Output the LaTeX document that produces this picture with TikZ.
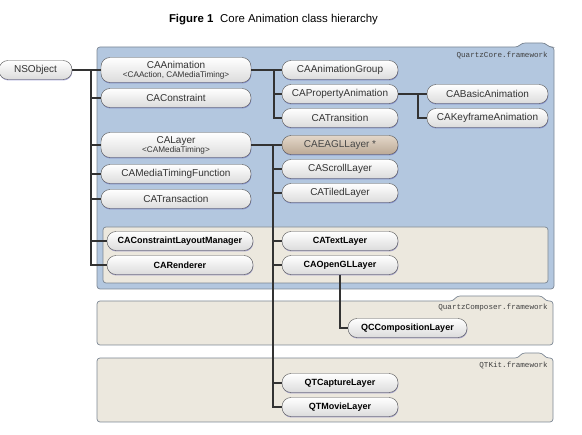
\documentclass[tikz,border=0pt]{standalone}
\usepackage{fontspec}
\setmainfont{Liberation Sans}
\setmonofont{Liberation Mono}
\usetikzlibrary{positioning}
\usetikzlibrary{shadows}

\definecolor{qcblue}{HTML}{B3C7DF}
\definecolor{fwbeige}{HTML}{ECE8DE}
\definecolor{fwedge}{HTML}{7C8794}
\definecolor{linegray}{HTML}{333333}
\definecolor{eaglTop}{HTML}{E3D7C9}
\definecolor{eaglBot}{HTML}{BCA995}

\tikzset{
  cls/.style={draw=gray!65!black, rounded corners=9pt, top color=white, bottom color=gray!28,
    minimum height=19pt, inner sep=1pt, font=\fontsize{10}{11}\selectfont, text=black!80,
    drop shadow={shadow xshift=0.4pt, shadow yshift=-1pt, fill=blue!40!gray, opacity=0.45}},
  boldcls/.style={cls, font=\fontsize{9}{11}\selectfont\bfseries, text=black},
  colA/.style={minimum width=150pt},
  colB/.style={minimum width=116pt},
  colC/.style={minimum width=121pt},
  link/.style={draw=linegray, line width=1.1pt},
  fwbox/.style={draw=fwedge, line width=0.7pt, rounded corners=3pt},
  fwlabel/.style={anchor=east, inner sep=0pt, text=black!75, font=\ttfamily\fontsize{7.6}{8}\selectfont},
}

\begin{document}
\begin{tikzpicture}[x=1pt,y=-1pt]
\useasboundingbox (0,0) rectangle (582,435);

% framework boxes
\filldraw[fwbox, fill=qcblue] (97,47) -- (518,47) -- (522,43) -- (545,43) -- (549,47)
  -- (554,47) -- (554,289) -- (97,289) -- cycle;
\filldraw[fwbox, fill=fwbeige] (103,227) rectangle (548,283);
\filldraw[fwbox, fill=fwbeige] (97,301) -- (453,301) -- (457,296) -- (542,296) -- (546,301)
  -- (553,301) -- (553,345) -- (97,345) -- cycle;
\filldraw[fwbox, fill=fwbeige] (97,358) -- (518,358) -- (522,353) -- (542,353) -- (546,358)
  -- (553,358) -- (553,422) -- (97,422) -- cycle;
\node[fwlabel] (qcLabel) at (548,55) {QuartzCore.framework};
\node[fwlabel] (qzLabel) at (548,308) {QuartzComposer.framework};
\node[fwlabel] (qtLabel) at (548,365) {QTKit.framework};

\node (title) at (273.5,20) {\fontsize{11.4}{13}\selectfont\textbf{Figure 1}\hspace{0.6em}Core Animation class hierarchy};

% classes
\node[cls, minimum width=73pt] (nsObject) at (35.5,70) {NSObject};
\node[cls, colA, minimum height=25pt, align=center] (caAnimation) at (176,70)
  {CAAnimation\\[-2pt]{\fontsize{8.2}{8}\selectfont <CAAction, CAMediaTiming>}};
\node[cls, colA] (caConstraint) at (176,98) {CAConstraint};
\node[cls, colA, minimum height=25pt, align=center] (caLayer) at (176,145)
  {CALayer\\[-2pt]{\fontsize{8.2}{8}\selectfont <CAMediaTiming>}};
\node[cls, colA] (caMediaTimingFunction) at (176,174) {CAMediaTimingFunction};
\node[cls, colA] (caTransaction) at (176,199) {CATransaction};
\node[boldcls, minimum width=146pt] (caConstraintLayoutManager) at (180,241) {CAConstraintLayoutManager};
\node[boldcls, minimum width=146pt] (caRenderer) at (180,265) {CARenderer};

\node[cls, colB] (caAnimationGroup) at (340,70) {CAAnimationGroup};
\node[cls, colB] (caPropertyAnimation) at (340,94) {CAPropertyAnimation};
\node[cls, colB] (caTransition) at (340,118) {CATransition};
\node[cls, colC] (caBasicAnimation) at (487.5,94) {CABasicAnimation};
\node[cls, colC] (caKeyframeAnimation) at (487.5,118) {CAKeyframeAnimation};

\node[cls, colB, top color=eaglTop, bottom color=eaglBot, text=black!72] (caEAGLLayer) at (340,145) {CAEAGLLayer *};
\node[cls, colB] (caScrollLayer) at (340,169) {CAScrollLayer};
\node[cls, colB] (caTiledLayer) at (340,193) {CATiledLayer};
\node[boldcls, colB] (caTextLayer) at (340,241) {CATextLayer};
\node[boldcls, colB] (caOpenGLLayer) at (340,265) {CAOpenGLLayer};
\node[boldcls, minimum width=119pt] (qcCompositionLayer) at (407.5,328) {QCCompositionLayer};
\node[boldcls, colB] (qtCaptureLayer) at (340,383) {QTCaptureLayer};
\node[boldcls, colB] (qtMovieLayer) at (340,407) {QTMovieLayer};

% subclass lines
\coordinate (nsTrunk) at (91,70);
\coordinate (animTrunk) at (274,70);
\coordinate (propTrunk) at (418,94);
\coordinate (layerTrunk) at (273,145);

\draw[link] (nsObject.east) -- (caAnimation.west);
\foreach \child in {caConstraint, caLayer, caMediaTimingFunction, caTransaction,
  caConstraintLayoutManager, caRenderer}
  \draw[link] (nsTrunk) |- (\child.west);

\draw[link] (caAnimation.east) -- (caAnimationGroup.west);
\foreach \child in {caPropertyAnimation, caTransition}
  \draw[link] (animTrunk) |- (\child.west);

\draw[link] (caPropertyAnimation.east) -- (caBasicAnimation.west);
\draw[link] (propTrunk) |- (caKeyframeAnimation.west);

\draw[link] (caLayer.east) -- (caEAGLLayer.west);
\foreach \child in {caScrollLayer, caTiledLayer, caTextLayer, caOpenGLLayer,
  qtCaptureLayer, qtMovieLayer}
  \draw[link] (layerTrunk) |- (\child.west);

\draw[link] (caOpenGLLayer.south) |- (qcCompositionLayer.west);

\end{tikzpicture}
\end{document}
